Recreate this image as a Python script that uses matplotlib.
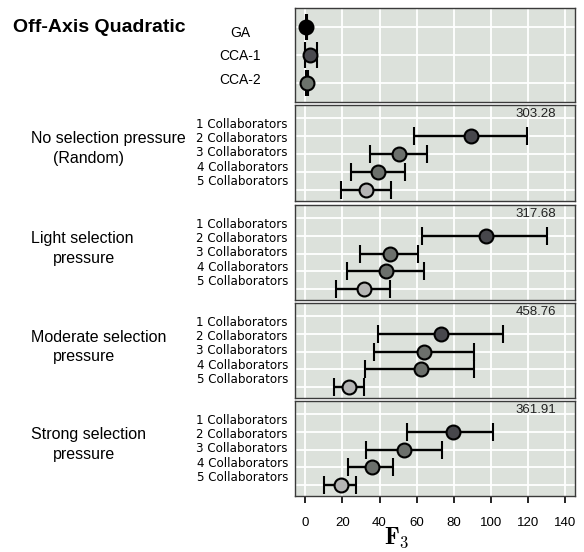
import numpy as np
import matplotlib.pyplot as plt

plt.rcParams['font.family'] = 'Liberation Sans'
plt.rcParams['mathtext.fontset'] = 'cm'

# top panel: baseline algorithms
base_names = ['GA', 'CCA-1', 'CCA-2']
base_mean = [0.5, 2.7, 1.1]
base_low = [0.3, 0.0, 0.6]
base_high = [0.7, 6.0, 1.6]
base_colors = ['#000000', '#4a4a4f', '#6c736c']

# collaborator panels
collab_labels = ['1 Collaborators', '2 Collaborators', '3 Collaborators',
                 '4 Collaborators', '5 Collaborators']
collab_colors = ['#47474c', '#47474c', '#6c706c', '#6c706c', '#b5b5b5']

group_line1 = ['No selection pressure', 'Light selection',
               'Moderate selection', 'Strong selection']
group_line2 = ['(Random)', 'pressure', 'pressure', 'pressure']

nan = np.nan
no_sel_mean = [303.28, 89.3, 50.6, 39.2, 32.9]
no_sel_low = [nan, 58.5, 34.7, 24.5, 19.1]
no_sel_high = [nan, 119.3, 65.7, 53.6, 46.4]

light_mean = [317.68, 97.2, 45.9, 43.4, 31.5]
light_low = [nan, 63.0, 29.3, 22.5, 16.4]
light_high = [nan, 130.5, 60.8, 63.9, 45.9]

moderate_mean = [458.76, 72.9, 63.9, 62.1, 23.6]
moderate_low = [nan, 38.9, 36.9, 32.0, 15.3]
moderate_high = [nan, 106.7, 91.0, 91.0, 31.7]

strong_mean = [361.91, 79.4, 53.3, 35.8, 19.4]
strong_low = [nan, 55.0, 32.6, 23.2, 10.1]
strong_high = [nan, 101.0, 73.8, 47.3, 27.5]

groups = [(no_sel_mean, no_sel_low, no_sel_high),
          (light_mean, light_low, light_high),
          (moderate_mean, moderate_low, moderate_high),
          (strong_mean, strong_low, strong_high)]

xticks = [0, 20, 40, 60, 80, 100, 120, 140]
xmin, xmax = -5.6, 145.4

# layout (pixels)
W, H = 584, 552
left, right = 295, 575
tops = [8, 105, 205, 303, 401]
heights = [94, 96, 95, 95, 95]

fig = plt.figure(figsize=(W / 100, H / 100), dpi=100)


def px(x, y):
    return x / W, 1 - y / H


def make_ax(top, h):
    ax = fig.add_axes([left / W, 1 - (top + h) / H, (right - left) / W, h / H])
    ax.set_facecolor('#dce1db')
    ax.set_xlim(xmin, xmax)
    ax.set_xticks(xticks)
    ax.grid(True, color='white', lw=1.3)
    ax.set_axisbelow(True)
    for s in ax.spines.values():
        s.set_color('#3a3a3a')
        s.set_linewidth(1.0)
    ax.tick_params(left=False, labelleft=False, bottom=False, labelbottom=False)
    return ax


def draw_point(ax, y, m, lo, hi, color, capsize):
    ax.errorbar([m], [y], xerr=[[m - lo], [hi - m]], fmt='o', ms=10,
                mfc=color, mec='black', mew=1.5, ecolor='black',
                elinewidth=1.7, capsize=capsize, capthick=1.8)


# top panel
ax = make_ax(tops[0], heights[0])
rows = np.arange(1, len(base_names) + 1)
ax.set_yticks(rows)
ax.set_ylim(3.7, 0.3)
for i, r in enumerate(rows):
    draw_point(ax, r, base_mean[i], base_low[i], base_high[i], base_colors[i], 9.7)
fig.text(*px(13, 28), 'Off-Axis Quadratic', fontsize=14, fontweight='bold',
         ha='left', va='center')
for i, name in enumerate(base_names):
    fig.text(*px(240, 33 + i * 23.5), name, fontsize=10, ha='center', va='center')

# collaborator panels
for g, (mean, low, high) in enumerate(groups):
    top, h = tops[g + 1], heights[g + 1]
    ax = make_ax(top, h)
    rows = np.arange(1, len(collab_labels) + 1)
    ax.set_yticks(rows)
    ax.set_ylim(5.6, 0.28)
    for i, r in enumerate(rows):
        if mean[i] > xmax:
            ax.text(135, r - 0.2, f'{mean[i]:.2f}', fontsize=9.5, color='#222222',
                    ha='right', va='center')
        else:
            draw_point(ax, r, mean[i], low[i], high[i], collab_colors[i], 6.8)
    for i, lab in enumerate(collab_labels):
        fig.text(*px(288, top + 19 + i * 14.4), lab, family='DejaVu Sans',
                 fontsize=8.6, ha='right', va='center')
    fig.text(*px(31, top + 34), group_line1[g], fontsize=11.5, ha='left', va='center')
    fig.text(*px(53, top + 53.5), group_line2[g], fontsize=11.5, ha='left', va='center')
    if g == len(groups) - 1:
        ax.tick_params(bottom=True, labelbottom=True, length=5, width=1.2,
                       pad=10, labelsize=9.5, color='black')

fig.text(*px(397, 538), r'$\mathbf{F}_\mathbf{3}$', fontsize=17, ha='center', va='center')

fig.savefig('out.png', dpi=100)
